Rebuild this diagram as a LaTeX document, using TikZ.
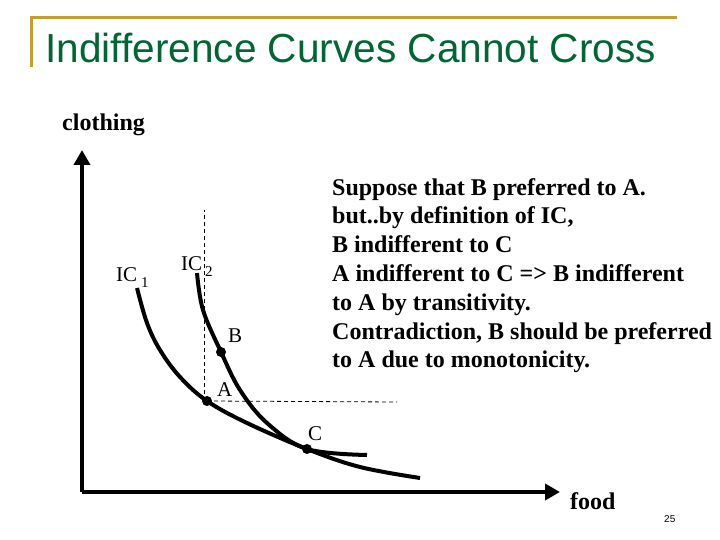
\documentclass[tikz,border=0pt]{standalone}
\usepackage{fontspec}
\setmainfont{Liberation Serif}
\newfontfamily\titlefont{Liberation Sans}
\usepackage{xcolor}
\usetikzlibrary{arrows.meta,positioning}
\definecolor{slidegold}{RGB}{196,158,48}
\definecolor{slidegreen}{RGB}{0,102,51}

\begin{document}
\begin{tikzpicture}[x=1pt,y=-1pt,
    axis/.style={line width=4.5pt, -{Triangle[length=15pt,width=16pt]}},
    curve/.style={line width=4pt, smooth, tension=0.6},
    guide/.style={line width=0.8pt, dash pattern=on 4pt off 3pt},
    pt/.style={circle, fill, inner sep=0pt, minimum size=10pt},
    lbl/.style={font=\fontsize{21}{24}\selectfont, inner sep=0pt, anchor=base west},
    sub/.style={font=\fontsize{15}{18}\selectfont, inner sep=0pt, anchor=base west}]
    \useasboundingbox (0,0) rectangle (720,540);
    % slide frame and title
    \draw[slidegold, line width=3pt] (31,67) -- (31,18) -- (677,18);
    \node[anchor=base west, inner sep=0pt, text=slidegreen,
          font=\titlefont\fontsize{40.6}{44}\selectfont] (title) at (45,63) {Indifference Curves Cannot Cross};
    % axes
    \coordinate (O) at (82,492);
    \coordinate (ytop) at (82,150);
    \coordinate (xend) at (560,492);
    \draw[axis] (O) -- (ytop);
    \draw[axis] (O) -- (xend);
    \node[lbl, font=\bfseries\fontsize{24}{28}\selectfont] (clothing) at (62,131) {clothing};
    \node[lbl, font=\bfseries\fontsize{24}{28}\selectfont] (food) at (570,509) {food};
    % bundles
    \node[pt] (A) at (207,401) {};
    \node[pt] (B) at (221,352) {};
    \node[pt] (C) at (307,449) {};
    \coordinate (Atop) at (204,210);
    \coordinate (Aright) at (397,402);
    \draw[guide] (A.center -| Atop) -- (Atop);
    \draw[guide] (A.center) -- (Aright);
    % indifference curves
    \draw[curve] plot coordinates {(137,288) (147,323) (160,350) (180,377) (A.center) (247,423) (C.center) (360,467) (420,478)};
    \draw[curve] plot coordinates {(197,273) (203,310) (B.center) (240,390) (267,423) (C.center) (367,455)};
    \node[lbl] (ic1) at (116,281) {IC};
    \node[sub] (ic1sub) at (141,287) {1};
    \node[lbl] (ic2) at (181,270) {IC};
    \node[sub] (ic2sub) at (205,276) {2};
    \node[lbl] (labB) at (228,342) {B};
    \node[lbl] (labA) at (217,396) {A};
    \node[lbl] (labC) at (308,440) {C};
    % argument
    \node[lbl, align=left, font=\bfseries\fontsize{24}{28.8}\selectfont] (argument) at (332,367.8)
        {Suppose that B preferred to A.\\
         but..by definition of IC,\\
         B indifferent to C\\
         A indifferent to C => B indifferent\\
         to A by transitivity.\\
         Contradiction, B should be preferred\\
         to A due to monotonicity.};
    \node[anchor=base west, inner sep=0pt, font=\titlefont\fontsize{10}{12}\selectfont] (page) at (664,522) {25};
\end{tikzpicture}
\end{document}
